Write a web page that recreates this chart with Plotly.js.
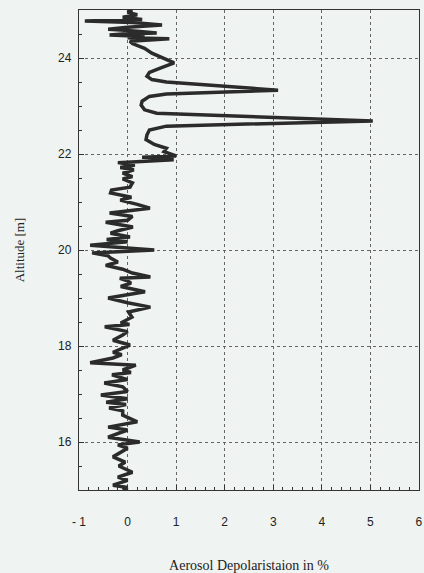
<!DOCTYPE html>
<html>
<head>
<meta charset="utf-8">
<script src="https://cdn.plot.ly/plotly-3.0.1.min.js"></script>
<style>
html,body{margin:0;padding:0;background:#eff3f1;}
#chart{width:424px;height:573px;}
</style>
</head>
<body>
<div id="chart"></div>
<script>
// Altitude profile (top to bottom) and aerosol depolarisation values (%)
const altitude = [
25.0,24.95,24.9,24.85,24.8,24.77,24.74,24.69,24.64,24.6,24.56,24.52,24.5,24.48,24.45,24.42,24.4,24.35,24.3,24.2,
24.1,24.0,23.95,23.9,23.8,23.7,23.62,23.55,23.5,23.33,23.25,23.2,23.1,23.02,22.92,22.85,22.69,22.58,22.5,22.4,
22.3,22.2,22.12,22.05,21.96,21.93,21.88,21.82,21.77,21.72,21.67,21.6,21.53,21.48,21.4,21.31,21.25,21.19,21.1,21.04,
20.95,20.87,20.8,20.77,20.7,20.62,20.58,20.48,20.4,20.35,20.27,20.22,20.17,20.1,20.0,19.94,19.88,19.83,19.75,19.68,
19.6,19.52,19.44,19.41,19.36,19.31,19.24,19.13,19.0,18.9,18.81,18.71,18.6,18.48,18.45,18.4,18.3,18.23,18.12,18.02,
17.87,17.82,17.75,17.65,17.62,17.6,17.5,17.45,17.4,17.3,17.23,17.15,17.05,16.98,16.9,16.83,16.78,16.71,16.65,16.56,
16.42,16.31,16.25,16.1,16.0,15.94,15.87,15.69,15.58,15.5,15.37,15.27,15.2,15.1,15.05,15.0
];
const depol = [
0.1,0.0,0.2,-0.1,0.3,-0.88,0.1,0.71,0.0,-0.4,0.2,0.6,-0.1,-0.37,0.35,0.0,0.86,0.05,0.1,0.35,
0.5,0.72,0.85,0.96,0.7,0.45,0.4,0.5,0.8,3.1,0.8,0.45,0.3,0.28,0.35,0.6,5.05,0.8,0.45,0.4,
0.38,0.55,0.8,0.75,1.0,0.3,0.95,-0.2,0.15,-0.15,0.13,-0.1,0.1,-0.1,0.1,0.05,-0.33,-0.35,0.08,-0.15,
0.2,0.46,-0.1,-0.37,0.1,0.0,-0.45,0.11,-0.2,-0.35,0.05,-0.43,0.0,-0.77,0.55,-0.73,-0.4,-0.35,-0.2,-0.45,
-0.1,0.1,0.47,-0.16,0.0,0.07,-0.14,0.36,-0.4,0.0,0.47,0.02,0.09,-0.14,0.04,-0.47,0.0,-0.1,-0.3,0.05,
-0.3,-0.12,-0.3,-0.77,-0.2,0.17,-0.1,0.07,-0.32,0.0,-0.48,-0.1,0.0,-0.55,0.0,-0.44,-0.03,-0.38,-0.1,-0.1,
0.2,-0.4,0.0,-0.4,0.25,-0.2,0.0,-0.3,-0.05,-0.18,0.1,-0.2,0.0,-0.3,0.0,-0.1
];
const xTickVals = [-1,0,1,2,3,4,5,6];
const xTickText = ["- 1","0","1","2","3","4","5","6"];
const yTickVals = [16,18,20,22,24];
const yTickText = ["16","18","20","22","24"];

const trace = {
  x: depol, y: altitude, type: 'scatter', mode: 'lines',
  line: {color: '#2b2b2b', width: 3.5},
  hoverinfo: 'skip'
};

const axisCommon = {
  showline: true, linecolor: '#333', linewidth: 1.2, mirror: true,
  ticks: 'inside', ticklen: 5, tickcolor: '#333',
  showgrid: true, gridcolor: '#666', gridwidth: 1, griddash: 'dot',
  zeroline: false, ticklabeloverflow: 'allow',
  tickfont: {family: 'Liberation Sans, Arial, sans-serif', size: 12, color: '#222'}
};

const layout = {
  width: 424, height: 573,
  margin: {l: 79, r: 5, t: 10, b: 83},
  paper_bgcolor: '#eff3f1', plot_bgcolor: '#eff3f1',
  showlegend: false,
  xaxis: Object.assign({}, axisCommon, {
    range: [-1, 6.002], tickvals: xTickVals, ticktext: xTickText,
    ticklabelstandoff: 20,
    minor: {dtick: 0.2, ticks: 'inside', ticklen: 3, tickcolor: '#333', showgrid: false},
    title: {text: 'Aerosol Depolaristaion in %', standoff: 32,
      font: {family: 'Liberation Serif, Times New Roman, serif', size: 14, color: '#222'}}
  }),
  yaxis: Object.assign({}, axisCommon, {
    range: [15, 25], tickvals: yTickVals, ticktext: yTickText,
    ticklabelstandoff: 4,
    minor: {dtick: 0.5, ticks: 'inside', ticklen: 3, tickcolor: '#333', showgrid: false},
    title: {text: 'Altitude [m]', standoff: 30,
      font: {family: 'Liberation Serif, Times New Roman, serif', size: 13, color: '#222'}}
  })
};

Plotly.newPlot('chart', [trace], layout, {staticPlot: true, displayModeBar: false});
</script>
</body>
</html>
